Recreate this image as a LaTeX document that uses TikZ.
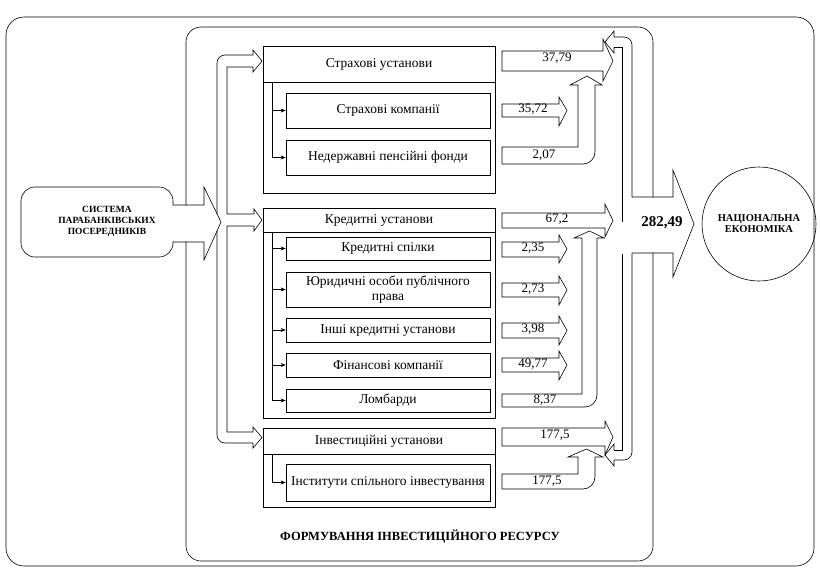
\documentclass[tikz,border=0pt]{standalone}
\usepackage{fontspec}
\setmainfont{Liberation Serif}
\usetikzlibrary{arrows.meta}
\begin{document}
\begin{tikzpicture}[x=1pt,y=-1pt,line width=0.6pt,
  every node/.style={inner sep=0pt},
  txt/.style={font=\fontsize{13.5}{14.5}\selectfont},
  val/.style={font=\fontsize{13}{14}\selectfont},
  hd/.style={font=\bfseries\fontsize{9.5}{11}\selectfont,align=center},
  subbox/.style={draw,txt,minimum width=204,align=center},
  grp/.style={draw,minimum width=232,anchor=north west},
  treearrow/.style={-{Stealth[length=5pt,width=4pt]}}]
\useasboundingbox (0,0) rectangle (820,568);

% frames
\draw[rounded corners=18] (6,17) rectangle (814,566);
\draw[rounded corners=15] (186,27) rectangle (653,561);

% source block with its outgoing arrow
\node[draw,rounded corners=14,minimum width=152,minimum height=70] (sys) at (97,222) {};
\node[hd] (syst) at (107,221) {СИСТЕМА\\ПАРАБАНКІВСЬКИХ\\ПОСЕРЕДНИКІВ};
\path[fill=white] (172,205.3) -- (204,205.3) -- (204,187) -- (221,222) -- (204,260) -- (204,241.7) -- (172,241.7) -- cycle;
\draw (173,205) -- (204,205) -- (204,187) -- (221,222) -- (204,260) -- (204,242) -- (173,242);

% distribution bracket
\draw[rounded corners=8] (217,214) -- (217,55) -- (253,55);
\draw (253,55) -- (253,50) -- (262,61) -- (253,72) -- (253,67) -- (227,67) -- (227,214)
      -- (254,214) -- (254,209) -- (262,220) -- (254,231) -- (254,226) -- (227,226)
      -- (227,432) -- (253,432) -- (253,427) -- (262,437.5) -- (253,448) -- (253,443);
\draw[rounded corners=8] (253,443) -- (217,443) -- (217,231);

% insurance group
\node[grp,minimum height=147] (gs) at (263,46) {};
\draw (263,82) -- (495,82);
\node[txt] (gst) at (379,64) {Страхові установи};
\node[subbox,minimum height=35] (s1) at (388,110.5) {Страхові компанії};
\node[subbox,minimum height=35] (s2) at (388,157.5) {Недержавні пенсійні фонди};
\coordinate (ts) at (272,82);
\draw (ts) -- (ts |- s2.west);
\draw[treearrow] (s1.west -| ts) -- (s1.west);
\draw[treearrow] (s2.west -| ts) -- (s2.west);

% credit group
\node[grp,minimum height=210] (gk) at (263,208) {};
\draw (263,232) -- (495,232);
\node[txt] (gkt) at (379,220) {Кредитні установи};
\node[subbox,minimum height=23] (k1) at (388,248.5) {Кредитні спілки};
\node[subbox,minimum height=35] (k2) at (388,289.5) {Юридичні особи публічного\\права};
\node[subbox,minimum height=24] (k3) at (388,330) {Інші кредитні установи};
\node[subbox,minimum height=24] (k4) at (388,365) {Фінансові компанії};
\node[subbox,minimum height=23] (k5) at (388,400.5) {Ломбарди};
\coordinate (tk) at (272,232);
\draw (tk) -- (tk |- k5.west);
\foreach \k in {k1,k2,k3,k4,k5} \draw[treearrow] (\k.west -| tk) -- (\k.west);

% investment group
\node[grp,minimum height=79] (gi) at (263,428) {};
\draw (263,454) -- (495,454);
\node[txt] (git) at (379,441) {Інвестиційні установи};
\node[subbox,minimum height=37] (i1) at (388,482.5) {Інститути спільного інвестування};
\coordinate (ti) at (272,454);
\draw (ti) -- (ti |- i1.west);
\draw[treearrow] (i1.west -| ti) -- (i1.west);

% value arrows
\draw (502,51) -- (603,51) -- (603,39) -- (613,61) -- (603,81) -- (603,71) -- (502,71) -- cycle;
\node[val] (v1) at (557,58) {37,79};
\draw (502,104) -- (559,104) -- (559,97) -- (567,110.5) -- (559,126) -- (559,117) -- (502,117) -- cycle;
\node[val] (v2) at (533,109) {35,72};
\draw (502,164) -- (502,147) -- (578,147) -- (578,85) -- (570,85) -- (587,76) -- (602,85) -- (595,85);
\draw[rounded corners=12] (595,85) -- (595,164) -- (502,164);
\node[val] (v3) at (544,155) {2,07};

\draw (502,213) -- (605,213) -- (605,204) -- (613,220.5) -- (605,237) -- (605,228) -- (502,228) -- cycle;
\node[val] (v4) at (557,219) {67,2};
\draw (502,242) -- (559,242) -- (559,235) -- (567,249) -- (559,263) -- (559,257) -- (502,257) -- cycle;
\node[val] (v5) at (533,248) {2,35};
\draw (502,283) -- (559,283) -- (559,276) -- (567,290) -- (559,305) -- (559,297) -- (502,297) -- cycle;
\node[val] (v6) at (533,289) {2,73};
\draw (502,323) -- (559,323) -- (559,316) -- (567,330.5) -- (559,345) -- (559,338) -- (502,338) -- cycle;
\node[val] (v7) at (533,329) {3,98};
\draw (502,358) -- (559,358) -- (559,351) -- (567,365) -- (559,380) -- (559,372) -- (502,372) -- cycle;
\node[val] (v8) at (533,364) {49,77};
\draw (502,407) -- (502,394) -- (582,394) -- (582,238) -- (574,238) -- (589.5,231) -- (604,238) -- (597,238);
\draw[rounded corners=12] (597,238) -- (597,407) -- (502,407);
\node[val] (v9) at (545,400) {8,37};

\draw (502,428) -- (605,428) -- (605,421) -- (613,437) -- (605,455) -- (605,446) -- (502,446) -- cycle;
\node[val] (v10) at (555,435) {177,5};
\draw (502,489) -- (502,474) -- (578,474) -- (578,457) -- (568,457) -- (586.5,449) -- (603,457) -- (595,457);
\draw[rounded corners=12] (595,457) -- (595,489) -- (502,489);
\node[val] (v11) at (547,481) {177,5};

% collecting channel
\draw[rounded corners=8] (614,37) -- (632,37) -- (632,197);
\draw (614,47) -- (622,47) -- (622,222);
\draw (614,37) -- (614,31) -- (605,42) -- (614,53) -- (614,47);
\draw (622,254) -- (622,450) -- (614,450);
\draw[rounded corners=8] (632,253) -- (632,460) -- (614,460);
\draw (614,450) -- (614,444) -- (605,455) -- (614,466) -- (614,460);

% total arrow into the economy
\path[fill=white] (631.7,197.3) -- (673,197.3) -- (673,170) -- (694,224) -- (673,277) -- (673,252.7) -- (631.7,252.7) -- cycle;
\draw (632,197) -- (673,197) -- (673,170) -- (694,224) -- (673,277) -- (673,253) -- (632,253);
\node[font=\bfseries\fontsize{15}{16}\selectfont] (tot) at (662,223) {282,49};
\node[draw,circle,minimum size=114,hd,font=\bfseries\fontsize{10.5}{11}\selectfont] (ne) at (759,224) {НАЦІОНАЛЬНА\\ЕКОНОМІКА};

\node[font=\bfseries\fontsize{12.5}{14}\selectfont] (ttl) at (420,537) {ФОРМУВАННЯ ІНВЕСТИЦІЙНОГО РЕСУРСУ};
\end{tikzpicture}
\end{document}
